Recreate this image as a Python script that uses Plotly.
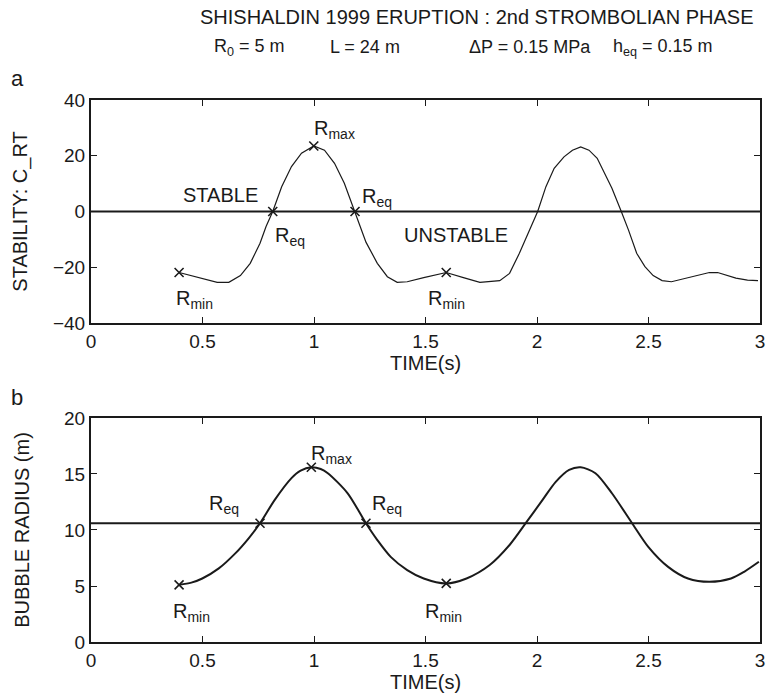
import plotly.graph_objects as go

# ---------------- data ----------------
t_crt = [0.395, 0.44, 0.499, 0.566, 0.618, 0.67, 0.714, 0.758, 0.785, 0.815,
         0.855, 0.899, 0.944, 0.999, 1.047, 1.092, 1.136, 1.184, 1.233, 1.284,
         1.329, 1.373, 1.418, 1.492, 1.593, 1.67, 1.744, 1.833, 1.877, 1.921,
         1.966, 2.003, 2.04, 2.077, 2.121, 2.159, 2.196, 2.233, 2.27, 2.307,
         2.336, 2.378, 2.41, 2.447, 2.484, 2.521, 2.561, 2.603, 2.692, 2.773,
         2.81, 2.892, 2.944, 2.991]
c_rt = [-21.9, -22.8, -24.2, -25.4, -25.4, -23.0, -18.6, -11.4, -5.4, 0.0,
        8.9, 16.1, 20.9, 23.5, 22.0, 17.3, 10.1, 0.0, -11.0, -18.6,
        -23.4, -25.4, -25.2, -23.7, -21.9, -23.7, -25.4, -24.8, -22.2, -15.0,
        -6.6, 0.0, 8.9, 15.5, 19.6, 22.0, 23.2, 22.0, 19.1, 13.1,
        8.3, 0.0, -6.6, -15.0, -19.8, -23.0, -24.8, -25.2, -23.4, -21.9,
        -21.9, -23.9, -24.6, -24.8]

t_rad = [0.395, 0.45, 0.499, 0.573, 0.647, 0.707, 0.758, 0.824, 0.899, 0.94,
         0.988, 1.03, 1.062, 1.151, 1.233, 1.284, 1.344, 1.418, 1.492, 1.593,
         1.684, 1.788, 1.877, 1.951, 2.025, 2.084, 2.144, 2.196, 2.262, 2.336,
         2.425, 2.499, 2.588, 2.677, 2.773, 2.87, 2.929, 2.995]
radius = [5.1, 5.3, 5.67, 6.57, 7.91, 9.26, 10.6, 12.69, 14.63, 15.3,
          15.6, 15.45, 15.07, 13.28, 10.6, 9.1, 7.6, 6.42, 5.67, 5.23,
          5.67, 6.87, 8.66, 10.65, 12.69, 14.3, 15.37, 15.6, 15.07, 13.28,
          10.65, 8.5, 6.71, 5.67, 5.37, 5.67, 6.27, 7.16]

stability_ref = 0.0
r_eq = 10.6

mark_t_crt = [0.395, 0.815, 0.999, 1.184, 1.593]
mark_c_rt = [-21.9, 0.0, 23.5, 0.0, -21.9]
mark_t_rad = [0.395, 0.758, 0.988, 1.233, 1.593]
mark_rad = [5.1, 10.6, 15.6, 10.6, 5.23]

x_ticks = [0, 0.5, 1, 1.5, 2, 2.5, 3]
x_ticklabels = ["0", "0.5", "1", "1.5", "2", "2.5", "3"]
y1_ticks = [-40, -20, 0, 20, 40]
y2_ticks = [0, 5, 10, 15, 20]

# ---------------- figure ----------------
FONT = "Liberation Sans, Arial, sans-serif"
BLACK = "#1a1a1a"

W, H = 772, 697
ML, MR, MT, MB = 91, 7, 100, 55
PW, PH = W - ML - MR, H - MT - MB


def px(xp):
    return (xp - ML) / PW


def py(yp):
    return (H - MB - yp) / PH


fig = go.Figure()

# top panel
fig.add_trace(go.Scatter(x=[0, 3], y=[stability_ref, stability_ref], mode="lines",
                         line=dict(color=BLACK, width=2), xaxis="x", yaxis="y",
                         showlegend=False, hoverinfo="skip"))
fig.add_trace(go.Scatter(x=t_crt, y=c_rt, mode="lines",
                         line=dict(color=BLACK, width=1.2), xaxis="x", yaxis="y",
                         showlegend=False))
fig.add_trace(go.Scatter(x=mark_t_crt, y=mark_c_rt, mode="markers",
                         marker=dict(symbol="x-thin", size=9,
                                     line=dict(color=BLACK, width=1.6)),
                         xaxis="x", yaxis="y", showlegend=False))

# bottom panel
fig.add_trace(go.Scatter(x=[0, 3], y=[r_eq, r_eq], mode="lines",
                         line=dict(color=BLACK, width=2), xaxis="x2", yaxis="y2",
                         showlegend=False, hoverinfo="skip"))
fig.add_trace(go.Scatter(x=t_rad, y=radius, mode="lines",
                         line=dict(color=BLACK, width=2, shape="spline", smoothing=0.8),
                         xaxis="x2", yaxis="y2", showlegend=False))
fig.add_trace(go.Scatter(x=mark_t_rad, y=mark_rad, mode="markers",
                         marker=dict(symbol="x-thin", size=9,
                                     line=dict(color=BLACK, width=1.6)),
                         xaxis="x2", yaxis="y2", showlegend=False))

axis_common = dict(showline=True, linecolor=BLACK, linewidth=2, mirror="ticks",
                   ticks="inside", ticklen=6, tickwidth=1.2, tickcolor=BLACK,
                   showgrid=False, zeroline=False,
                   tickfont=dict(family=FONT, size=19, color=BLACK))

fig.update_layout(
    width=W, height=H,
    margin=dict(l=ML, r=MR, t=MT, b=MB),
    paper_bgcolor="white", plot_bgcolor="white",
    font=dict(family=FONT, size=19, color=BLACK),
    xaxis=dict(domain=[0, 1], range=[0, 3], tickvals=x_ticks, ticktext=x_ticklabels,
               anchor="y", title=dict(text="TIME(s)", standoff=0,
                                      font=dict(size=20)), **axis_common),
    yaxis=dict(domain=[0.5886, 1.0], range=[-40, 40], tickvals=y1_ticks,
               anchor="x", title=dict(text="STABILITY: C_RT", standoff=20,
                                      font=dict(size=20)), **axis_common),
    xaxis2=dict(domain=[0, 1], range=[0, 3], tickvals=x_ticks, ticktext=x_ticklabels,
                anchor="y2", title=dict(text="TIME(s)", standoff=2,
                                        font=dict(size=20)), **axis_common),
    yaxis2=dict(domain=[0, 0.4133], range=[0, 20], tickvals=y2_ticks,
                anchor="x2", title=dict(text="BUBBLE RADIUS (m)", standoff=29,
                                        font=dict(size=20)), **axis_common),
)

ann = []


def txt(x, y, s, xref="x", yref="y", size=20, xanchor="left", yanchor="middle"):
    ann.append(dict(x=x, y=y, xref=xref, yref=yref, text=s, showarrow=False,
                    xanchor=xanchor, yanchor=yanchor,
                    font=dict(family=FONT, size=size, color=BLACK)))


# title lines
txt(px(480), py(17), "SHISHALDIN 1999 ERUPTION : 2nd STROMBOLIAN PHASE",
    xref="paper", yref="paper", size=20, xanchor="center")
txt(px(213), py(47), "R<sub>0</sub> = 5 m", xref="paper", yref="paper", size=18)
txt(px(330), py(47), "L = 24 m", xref="paper", yref="paper", size=18)
txt(px(470), py(47), "ΔP = 0.15 MPa", xref="paper", yref="paper", size=18)
txt(px(615), py(47), "h<sub>eq</sub> = 0.15 m", xref="paper", yref="paper", size=18)

# panel letters
txt(px(8), py(78), "a", xref="paper", yref="paper", size=22)
txt(px(8), py(397), "b", xref="paper", yref="paper", size=22)

# top panel labels
txt(0.99, 29.5, "R<sub>max</sub>")
txt(0.405, 6.0, "STABLE")
txt(0.815, -9.0, "R<sub>eq</sub>")
txt(1.205, 5.0, "R<sub>eq</sub>")
txt(1.396, -8.5, "UNSTABLE")
txt(0.373, -31.5, "R<sub>min</sub>")
txt(1.5, -31.5, "R<sub>min</sub>")

# bottom panel labels
txt(0.976, 16.7, "R<sub>max</sub>", "x2", "y2")
txt(0.52, 12.3, "R<sub>eq</sub>", "x2", "y2")
txt(1.25, 12.3, "R<sub>eq</sub>", "x2", "y2")
txt(0.36, 2.6, "R<sub>min</sub>", "x2", "y2")
txt(1.49, 2.6, "R<sub>min</sub>", "x2", "y2")

fig.update_layout(annotations=ann)
fig.write_html("out.html")
